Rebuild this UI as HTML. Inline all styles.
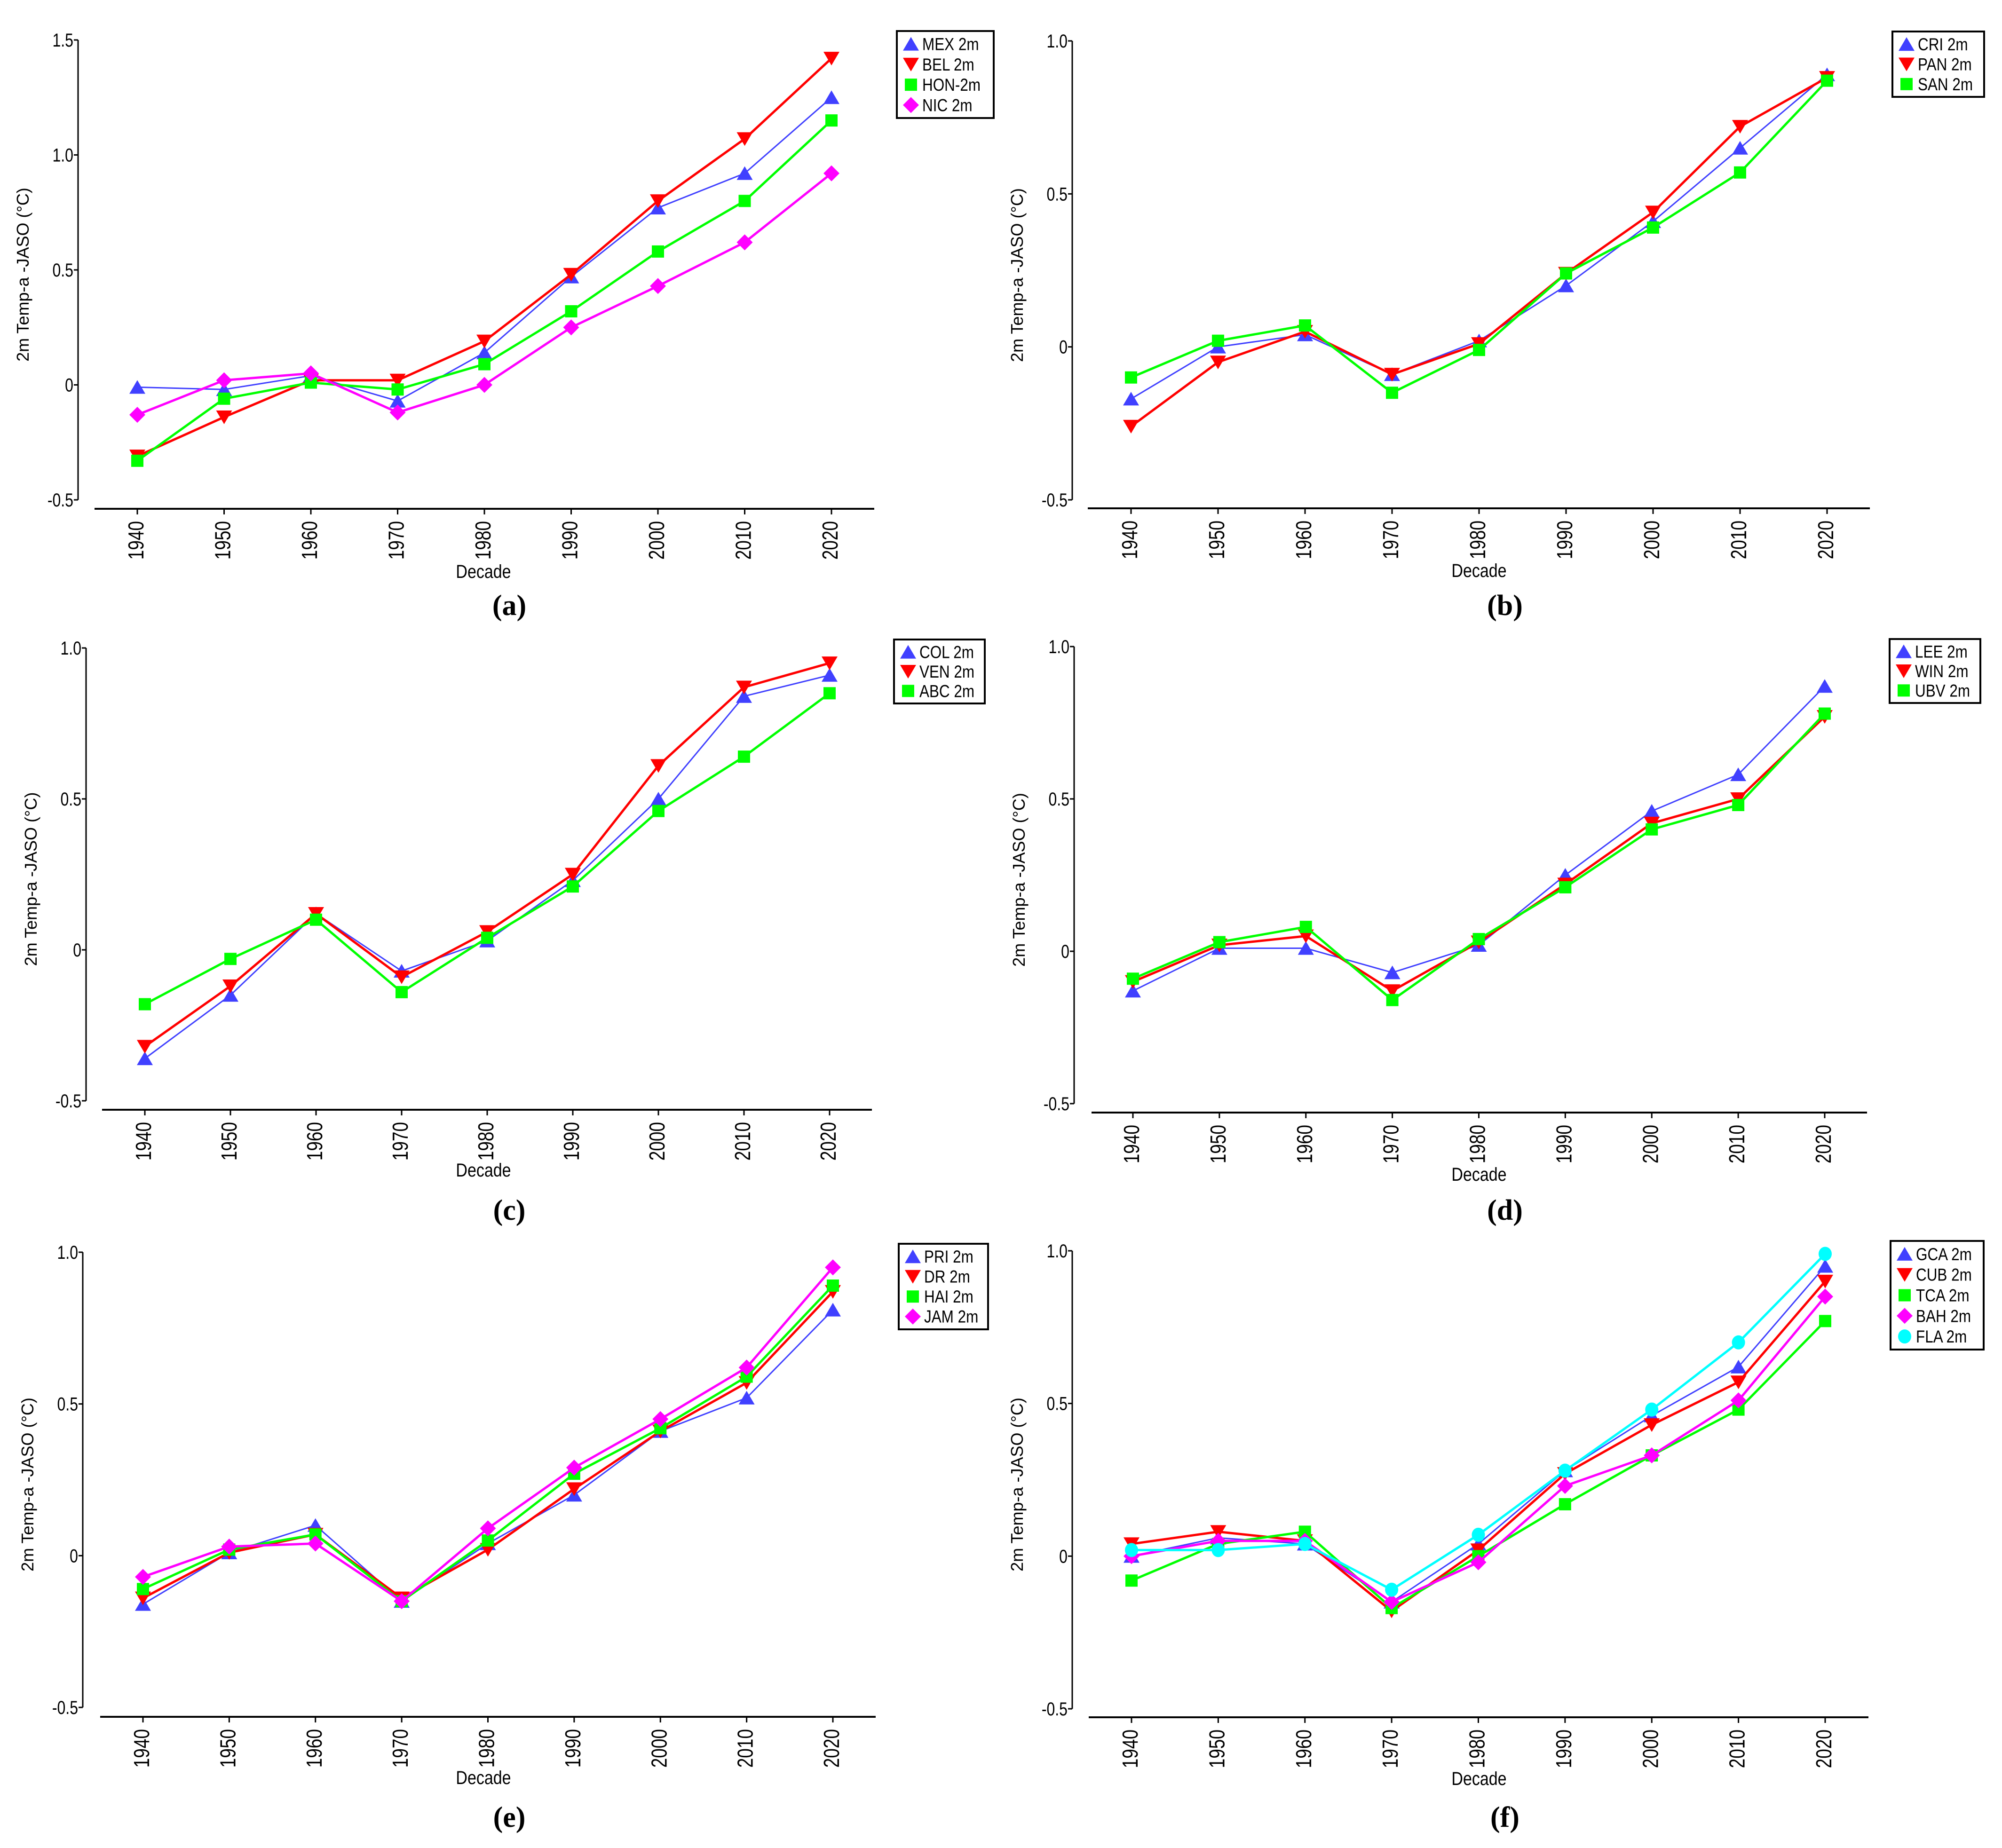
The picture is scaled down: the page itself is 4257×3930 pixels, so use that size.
<!DOCTYPE html>
<html><head><meta charset="utf-8">
<style>
html,body{margin:0;padding:0;background:#fff;}
svg{display:block;font-family:"Liberation Sans",Arial,sans-serif;}
</style></head>
<body>
<svg id="fig" width="4257" height="3930" viewBox="0 0 4257 3930" xmlns="http://www.w3.org/2000/svg"></svg>
<script>
const decades = [1940,1950,1960,1970,1980,1990,2000,2010,2020];
const colors = {tri:'#4040ff', inv:'#ff0000', sq:'#00ff00', dia:'#ff00ff', cir:'#00ffff'};

const aMEX = [-0.01,-0.02,0.04,-0.07,0.14,0.47,0.77,0.92,1.25];
const aBEL = [-0.31,-0.14,0.02,0.02,0.19,0.48,0.80,1.07,1.42];
const aHON = [-0.33,-0.06,0.01,-0.02,0.09,0.32,0.58,0.80,1.15];
const aNIC = [-0.13,0.02,0.05,-0.12,0.00,0.25,0.43,0.62,0.92];

const bCRI = [-0.17,0.00,0.04,-0.09,0.02,0.20,0.41,0.65,0.89];
const bPAN = [-0.26,-0.05,0.05,-0.09,0.01,0.24,0.44,0.72,0.88];
const bSAN = [-0.10,0.02,0.07,-0.15,-0.01,0.24,0.39,0.57,0.87];

const cCOL = [-0.36,-0.15,0.12,-0.07,0.03,0.23,0.50,0.84,0.91];
const cVEN = [-0.32,-0.12,0.12,-0.09,0.06,0.25,0.61,0.87,0.95];
const cABC = [-0.18,-0.03,0.10,-0.14,0.04,0.21,0.46,0.64,0.85];

const dLEE = [-0.13,0.01,0.01,-0.07,0.02,0.25,0.46,0.58,0.87];
const dWIN = [-0.10,0.02,0.05,-0.13,0.03,0.22,0.42,0.50,0.77];
const dUBV = [-0.09,0.03,0.08,-0.16,0.04,0.21,0.40,0.48,0.78];

const ePRI = [-0.16,0.01,0.10,-0.15,0.04,0.20,0.41,0.52,0.81];
const eDR  = [-0.14,0.01,0.07,-0.14,0.02,0.22,0.41,0.57,0.87];
const eHAI = [-0.11,0.02,0.07,-0.15,0.05,0.27,0.42,0.59,0.89];
const eJAM = [-0.07,0.03,0.04,-0.15,0.09,0.29,0.45,0.62,0.95];

const fGCA = [0.00,0.06,0.04,-0.15,0.04,0.28,0.46,0.62,0.95];
const fCUB = [0.04,0.08,0.05,-0.18,0.02,0.27,0.43,0.57,0.90];
const fTCA = [-0.08,0.04,0.08,-0.17,0.00,0.17,0.33,0.48,0.77];
const fBAH = [0.00,0.05,0.05,-0.15,-0.02,0.23,0.33,0.51,0.85];
const fFLA = [0.02,0.02,0.04,-0.11,0.07,0.28,0.48,0.70,0.99];

const ticksA = [-0.5,0,0.5,1.0,1.5];
const ticksA_labels = ['-0.5','0','0.5','1.0','1.5'];
const ticksB = [-0.5,0,0.5,1.0];
const ticksB_labels = ['-0.5','0','0.5','1.0'];

const panels = [
 {id:'a', yaxisX:166, yTop:85, yBot:1063, ymin:-0.5, ymax:1.5, ticks:ticksA, tl:ticksA_labels, xaxisY:1082, xx1:201, xx2:1859, x0:292, x1:1768, decY:1215, capY:1288, capX:1083, leg:[1907,66,2113,251],
  series:[['MEX 2m',aMEX,'tri'],['BEL 2m',aBEL,'inv'],['HON-2m',aHON,'sq'],['NIC 2m',aNIC,'dia']]},
 {id:'b', yaxisX:2280, yTop:87, yBot:1063, ymin:-0.5, ymax:1.0, ticks:ticksB, tl:ticksB_labels, xaxisY:1081, xx1:2313, xx2:3976, x0:2405, x1:3885, decY:1213, capY:1288, capX:3200, leg:[4024,67,4219,206],
  series:[['CRI 2m',bCRI,'tri'],['PAN 2m',bPAN,'inv'],['SAN 2m',bSAN,'sq']]},
 {id:'c', yaxisX:183, yTop:1378, yBot:2341, ymin:-0.5, ymax:1.0, ticks:ticksB, tl:ticksB_labels, xaxisY:2360, xx1:217, xx2:1854, x0:308, x1:1764, decY:2488, capY:2574, capX:1083, leg:[1901,1360,2094,1496],
  series:[['COL 2m',cCOL,'tri'],['VEN 2m',cVEN,'inv'],['ABC 2m',cABC,'sq']]},
 {id:'d', yaxisX:2284, yTop:1375, yBot:2347, ymin:-0.5, ymax:1.0, ticks:ticksB, tl:ticksB_labels, xaxisY:2366, xx1:2321, xx2:3970, x0:2409, x1:3880, decY:2497, capY:2574, capX:3200, leg:[4018,1359,4211,1495],
  series:[['LEE 2m',dLEE,'tri'],['WIN 2m',dWIN,'inv'],['UBV 2m',dUBV,'sq']]},
 {id:'e', yaxisX:176, yTop:2663, yBot:3631, ymin:-0.5, ymax:1.0, ticks:ticksB, tl:ticksB_labels, xaxisY:3651, xx1:213, xx2:1862, x0:304, x1:1771, decY:3780, capY:3865, capX:1083, leg:[1911,2645,2101,2827],
  series:[['PRI 2m',ePRI,'tri'],['DR 2m',eDR,'inv'],['HAI 2m',eHAI,'sq'],['JAM 2m',eJAM,'dia']]},
 {id:'f', yaxisX:2280, yTop:2660, yBot:3634, ymin:-0.5, ymax:1.0, ticks:ticksB, tl:ticksB_labels, xaxisY:3652, xx1:2315, xx2:3973, x0:2406, x1:3881, decY:3782, capY:3865, capX:3200, leg:[4020,2639,4218,2870],
  series:[['GCA 2m',fGCA,'tri'],['CUB 2m',fCUB,'inv'],['TCA 2m',fTCA,'sq'],['BAH 2m',fBAH,'dia'],['FLA 2m',fFLA,'cir']]}
];

const NS='http://www.w3.org/2000/svg';
const svg=document.getElementById('fig');
function mk(tag, attrs, parent){
  const e=document.createElementNS(NS,tag);
  for(const k in attrs) e.setAttribute(k, attrs[k]);
  (parent||svg).appendChild(e);
  return e;
}
function marker(kind, cx, cy, g){
  const c=colors[kind]; let e;
  if(kind==='tri') e=mk('polygon',{points:`${cx-17},${cy+14} ${cx+17},${cy+14} ${cx},${cy-15}`,fill:c},g);
  else if(kind==='inv') e=mk('polygon',{points:`${cx-17},${cy-14} ${cx+17},${cy-14} ${cx},${cy+15}`,fill:c},g);
  else if(kind==='sq') e=mk('rect',{x:cx-13,y:cy-13,width:26,height:26,fill:c},g);
  else if(kind==='dia') e=mk('polygon',{points:`${cx},${cy-17} ${cx+17},${cy} ${cx},${cy+17} ${cx-17},${cy}`,fill:c},g);
  else e=mk('ellipse',{cx:cx,cy:cy,rx:14,ry:15,fill:c},g);
  return e;
}

panels.forEach(p=>{
  const g=mk('g',{});
  
  
  const xs=i=>p.x0+(p.x1-p.x0)*i/(decades.length-1);
  const ys=v=>p.yBot-(v-p.ymin)/(p.ymax-p.ymin)*(p.yBot-p.yTop);
  // y axis
  const ya=mk('line',{x1:p.yaxisX,y1:p.yTop,x2:p.yaxisX,y2:p.yBot,stroke:'#000','stroke-width':3},g);
  
  
  p.ticks.forEach((t,i)=>{
    const y=ys(t);
    mk('line',{x1:p.yaxisX-9,y1:y,x2:p.yaxisX,y2:y,stroke:'#000','stroke-width':3},g);
    const tx=mk('text',{x:p.yaxisX-10,y:y+14,'font-size':40,'text-anchor':'end',transform:`translate(${p.yaxisX-10},${y}) scale(0.8,1) translate(${-(p.yaxisX-10)},${-y})`},g);
    tx.textContent=p.tl[i];
    
    
  });
  // x axis
  const xa=mk('line',{x1:p.xx1,y1:p.xaxisY,x2:p.xx2,y2:p.xaxisY,stroke:'#000','stroke-width':4},g);
  
  
  decades.forEach((d,i)=>{
    const x=xs(i);
    mk('line',{x1:x,y1:p.xaxisY,x2:x,y2:p.xaxisY+12,stroke:'#000','stroke-width':3},g);
    const ty=p.xaxisY+26;
    const tx=mk('text',{x:0,y:0,'font-size':37,'text-anchor':'end',transform:`translate(${x+13},${ty}) rotate(-90) scale(1,1.25)`},g);
    tx.textContent=d;
    
    
  });
  const dec=mk('text',{x:p.capX-55,y:p.decY+14,'font-size':40,'text-anchor':'middle',transform:`translate(${p.capX-55},${p.decY}) scale(0.85,1) translate(${-(p.capX-55)},${-p.decY})`},g);
  dec.textContent='Decade';
  
  
  const yt=mk('text',{x:0,y:0,'font-size':36,'text-anchor':'middle',transform:`translate(${p.yaxisX-105},${(p.yTop+p.yBot)/2+10}) rotate(-90)`},g);
  yt.textContent='2m Temp-a -JASO (°C)';
  
  
  const cap=mk('text',{x:p.capX,y:p.capY+20,'font-size':62,'text-anchor':'middle','font-family':'"Liberation Serif",serif','font-weight':'bold'},g);
  cap.textContent='('+p.id+')';
  
  
  // series
  p.series.forEach(s=>{
    const [name,vals,kind]=s;
    const sg=mk('g',{},g);
    
    
    const pts=vals.map((v,i)=>`${xs(i)},${ys(v)}`).join(' ');
    mk('polyline',{points:pts,fill:'none',stroke:colors[kind],'stroke-width':kind==='tri'?3:5},sg);
    vals.forEach((v,i)=>{
      const m=marker(kind,xs(i),ys(v),sg);
      
      
    });
  });
  // legend
  const [lx1,ly1,lx2,ly2]=p.leg;
  const lg=mk('g',{},g);
  
  
  mk('rect',{x:lx1,y:ly1,width:lx2-lx1,height:ly2-ly1,fill:'#fff',stroke:'#000','stroke-width':4},lg);
  const n=p.series.length;
  const rowH=(ly2-ly1-12)/n;
  p.series.forEach((s,i)=>{
    const cy=ly1+6+rowH*(i+0.5);
    const eg=mk('g',{},lg);
    
    
    marker(s[2],lx1+30,cy,eg);
    const t=mk('text',{x:lx1+54,y:cy+13,'font-size':37,transform:`translate(${lx1+54},${cy}) scale(0.85,1) translate(${-(lx1+54)},${-cy})`},eg);
    t.textContent=s[0];
  });
});
</script>
</body></html>
